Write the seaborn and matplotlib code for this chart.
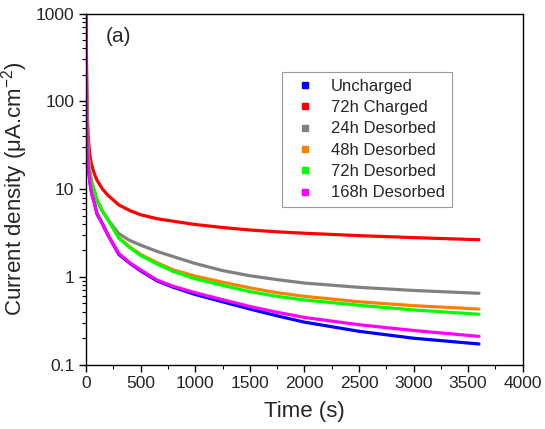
import matplotlib
matplotlib.use("Agg")
import matplotlib.pyplot as plt
import matplotlib.ticker as mticker
from matplotlib.lines import Line2D
import seaborn as sns
import pandas as pd

sns.set_style("ticks")
plt.rcParams["font.family"] = ["Liberation Sans", "DejaVu Sans"]
plt.rcParams["mathtext.default"] = "regular"

time_s = [1, 2, 5, 10, 20, 35, 50, 75, 100, 150, 200, 300, 400, 500, 650, 800,
          1000, 1250, 1500, 1750, 2000, 2500, 3000, 3600]

uncharged = [900, 300, 80, 35, 18, 12, 9, 7, 5.2, 4.0, 3.0, 1.8, 1.43, 1.17, 0.9, 0.76,
             0.63, 0.52, 0.43, 0.36, 0.305, 0.24, 0.2, 0.172]
charged_72h = [1000, 500, 150, 70, 38, 24, 19, 15, 12.6, 10, 8.5, 6.6, 5.7, 5.1, 4.6, 4.3,
               3.95, 3.65, 3.42, 3.26, 3.14, 2.95, 2.8, 2.65]
desorbed_24h = [950, 400, 100, 45, 24, 15, 12, 9.5, 7.4, 5.6, 4.5, 3.1, 2.6, 2.3, 1.95, 1.7,
                1.42, 1.18, 1.03, 0.93, 0.85, 0.76, 0.7, 0.65]
desorbed_48h = [950, 400, 100, 45, 24, 15, 12, 9.5, 7.5, 5.6, 4.5, 2.8, 2.2, 1.8, 1.45, 1.2,
                1.02, 0.87, 0.75, 0.66, 0.6, 0.52, 0.47, 0.43]
desorbed_72h = [950, 400, 100, 45, 24, 15, 12, 9.5, 7.5, 5.6, 4.5, 2.75, 2.15, 1.75, 1.4, 1.15,
                0.95, 0.8, 0.68, 0.6, 0.545, 0.475, 0.42, 0.375]
desorbed_168h = [900, 300, 80, 35, 18, 12, 9, 7, 5.3, 4.0, 3.0, 1.85, 1.45, 1.2, 0.92, 0.78,
                 0.66, 0.55, 0.46, 0.395, 0.345, 0.285, 0.245, 0.21]

labels = ["Uncharged", "72h Charged", "24h Desorbed", "48h Desorbed",
          "72h Desorbed", "168h Desorbed"]
series = [uncharged, charged_72h, desorbed_24h, desorbed_48h, desorbed_72h, desorbed_168h]
palette = ["#0000FF", "#FF0000", "#808080", "#FF8000", "#00FF00", "#FF00FF"]


def main():
    rows = []
    for lab, vals in zip(labels, series):
        for t, v in zip(time_s, vals):
            rows.append({"t": t, "j": v, "sample": lab})
    df = pd.DataFrame(rows)

    fig = plt.figure(figsize=(5.45, 4.29), dpi=100)
    ax = fig.add_axes([0.158, 0.150, 0.801, 0.8185])
    sns.lineplot(data=df, x="t", y="j", hue="sample", hue_order=labels,
                 palette=palette, linewidth=2.3, ax=ax, legend=False)

    ax.set_yscale("log")
    ax.set_xlim(0, 4000)
    ax.set_ylim(0.1, 1000)
    ax.xaxis.set_major_locator(mticker.MultipleLocator(500))
    ax.xaxis.set_minor_locator(mticker.MultipleLocator(250))
    ax.yaxis.set_major_formatter(mticker.FuncFormatter(lambda v, p: f"{v:g}"))
    ax.tick_params(which="major", length=5, width=1, labelsize=12.5, color="black")
    ax.tick_params(which="minor", length=3, width=0.8, color="black")
    for s in ax.spines.values():
        s.set_color("black")
        s.set_linewidth(1)

    ax.set_xlabel("Time (s)", fontsize=16, labelpad=7)
    ax.set_ylabel("Current density (μA.cm$^{-2}$)", fontsize=16, labelpad=4)
    ax.text(0.044, 0.934, "(a)", transform=ax.transAxes, fontsize=15, va="center")

    handles = [Line2D([], [], marker="s", linestyle="none", color=c,
                      markersize=5) for c in palette]
    leg = ax.legend(handles, labels, loc="upper left",
                    bbox_to_anchor=(0.448, 0.833), borderaxespad=0, fontsize=12,
                    frameon=True, fancybox=False, handlelength=2.0,
                    handletextpad=0.55, labelspacing=0.38, borderpad=0.4)
    leg.get_frame().set_edgecolor("#808080")
    leg.get_frame().set_linewidth(0.8)

    fig.savefig("out.png", dpi=100)


if __name__ == "__main__":
    main()
